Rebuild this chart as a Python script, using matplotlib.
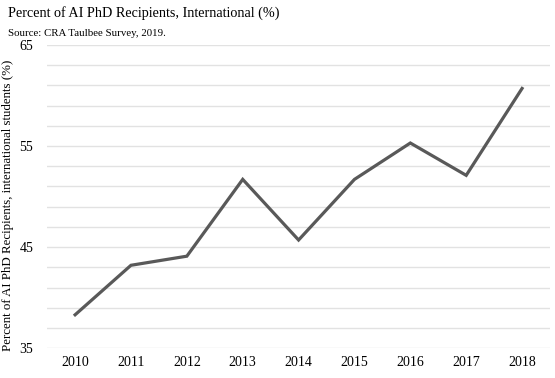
import matplotlib.pyplot as plt

# Dados
anos = ["2010", "2011", "2012", "2013", "2014", "2015", "2016", "2017", "2018"]
pct_internacional = [38.3, 43.2, 44.1, 51.7, 45.7, 51.7, 55.3, 52.1, 60.7]
y_ticks = [35, 45, 55, 65]

plt.rcParams["font.family"] = ["Liberation Serif", "DejaVu Serif"]

fig = plt.figure(figsize=(5.55, 3.78), dpi=100)
ax = fig.add_axes([0.085, 0.079, 0.906, 0.802])

x = range(len(anos))
ax.plot(x, pct_internacional, color="#595959", linewidth=2.3, solid_joinstyle="miter", zorder=3)

ax.set_xlim(-0.5, len(anos) - 0.5)
ax.set_ylim(35, 65)
ax.set_xticks(list(x))
ax.set_xticklabels(anos, fontsize=10)
ax.set_yticks(y_ticks)
ax.set_yticklabels([str(t) for t in y_ticks], fontsize=10)
ax.set_yticks(range(35, 66, 2), minor=True)
ax.grid(axis="y", which="both", color="#e2e2e2", linewidth=1)
ax.tick_params(axis="both", which="both", length=0)
ax.tick_params(axis="y", pad=10)
ax.tick_params(axis="x", pad=6)
for s in ax.spines.values():
    s.set_visible(False)

ax.set_ylabel("Percent of AI PhD Recipients, international students (%)", fontsize=9.3)
ax.yaxis.set_label_coords(-0.066, 0.472)

fig.text(0.014, 0.965, "Percent of AI PhD Recipients, International (%)", fontsize=10.2, va="center")
fig.text(0.014, 0.912, "Source: CRA Taulbee Survey, 2019.", fontsize=7.8, va="center")

fig.savefig("out.png", dpi=100)
